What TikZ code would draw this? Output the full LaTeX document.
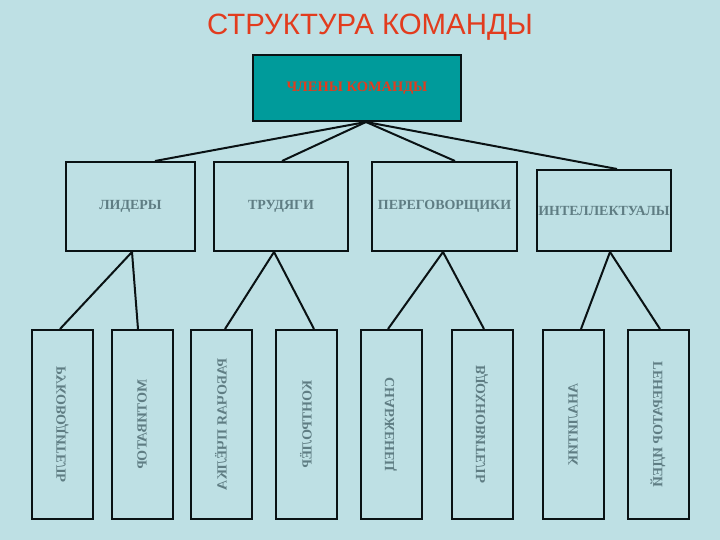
\documentclass[tikz,border=0pt]{standalone}
\usepackage{fontspec}
\setmainfont{Liberation Serif}
\newfontfamily\headfont{Liberation Sans}
\usepackage{graphicx}
\usepackage{xcolor}
\usepackage{tikz}
\usetikzlibrary{positioning}
\definecolor{sky}{HTML}{BEE0E4}
\definecolor{teal}{HTML}{009B9B}
\definecolor{flame}{HTML}{E23C1E}
\definecolor{slate}{HTML}{5F7D83}
\definecolor{edge}{HTML}{0A1214}
\newcommand{\downword}[1]{\rotatebox{90}{\reflectbox{#1}}}
\tikzset{
	lead/.style={draw=edge, line width=2bp, fill=teal, minimum width=208bp,
		minimum height=66bp, inner sep=0pt, text=flame,
		font=\fontsize{14.5}{17}\selectfont\bfseries},
	group/.style={draw=edge, line width=2bp, fill=sky, minimum height=89bp,
		inner sep=0pt, text=slate, font=\fontsize{14}{16}\selectfont\bfseries},
	role/.style={draw=edge, line width=2bp, fill=sky, minimum width=61bp,
		minimum height=189bp, inner sep=0pt, text=slate,
		font=\fontsize{14}{16}\selectfont\bfseries},
	link/.style={line width=2bp, edge},
}

\begin{document}
\begin{tikzpicture}[x=1bp, y=-1bp]
	\fill[sky] (0,0) rectangle (720,540);
	\useasboundingbox (0,0) rectangle (720,540);
	\node[font=\headfont\fontsize{29.5}{34}\selectfont, text=flame] (title) at (370,27) {СТРУКТУРА КОМАНДЫ};
	\node[lead] (team) at (357,88) {ЧЛЕНЫ КОМАНДЫ};
	\coordinate (hub) at (366,122);

	\node[group, minimum width=129bp] (lid) at (130.5,206.5) {ЛИДЕРЫ};
	\node[group, minimum width=134bp] (trud) at (281,206.5) {ТРУДЯГИ};
	\node[group, minimum width=145bp] (pere) at (444.5,206.5) {ПЕРЕГОВОРЩИКИ};
	\node[group, minimum width=134bp, minimum height=81bp] (intel) at (604,210.5) {ИНТЕЛЛЕКТУАЛЫ};

	\node[role] (ruk) at (62.5,424.5) {\downword{РУКОВОДИТЕЛЬ}};
	\node[role] (mot) at (142,424.5) {\downword{МОТИВАТОР}};
	\node[role] (pch) at (221,424.5) {\downword{РАБОЧАЯ ПЧЁЛКА}};
	\node[role] (kon) at (306,424.5) {\downword{КОНТРОЛЁР}};
	\node[role] (sna) at (391,424.5) {\downword{СНАБЖЕНЕЦ}};
	\node[role] (vdo) at (482,424.5) {\downword{ВДОХНОВИТЕЛЬ}};
	\node[role] (ana) at (573,424.5) {\downword{АНАЛИТИК}};
	\node[role] (gen) at (658,424.5) {\downword{ГЕНЕРАТОР ИДЕЙ}};

	\draw[link] (hub) -- ([xshift=24.5bp]lid.north);
	\draw[link] (hub) -- ([xshift=1bp]trud.north);
	\draw[link] (hub) -- ([xshift=10.5bp]pere.north);
	\draw[link] (hub) -- ([xshift=13bp]intel.north);

	\draw[link] ([xshift=1.5bp]lid.south) -- ([xshift=-2.5bp]ruk.north);
	\draw[link] ([xshift=1.5bp]lid.south) -- ([xshift=-4bp]mot.north);
	\draw[link] ([xshift=-7bp]trud.south) -- ([xshift=4bp]pch.north);
	\draw[link] ([xshift=-7bp]trud.south) -- ([xshift=8bp]kon.north);
	\draw[link] ([xshift=-1.5bp]pere.south) -- ([xshift=-3bp]sna.north);
	\draw[link] ([xshift=-1.5bp]pere.south) -- ([xshift=2bp]vdo.north);
	\draw[link] ([xshift=6bp]intel.south) -- ([xshift=8bp]ana.north);
	\draw[link] ([xshift=6bp]intel.south) -- ([xshift=2bp]gen.north);
\end{tikzpicture}
\end{document}
